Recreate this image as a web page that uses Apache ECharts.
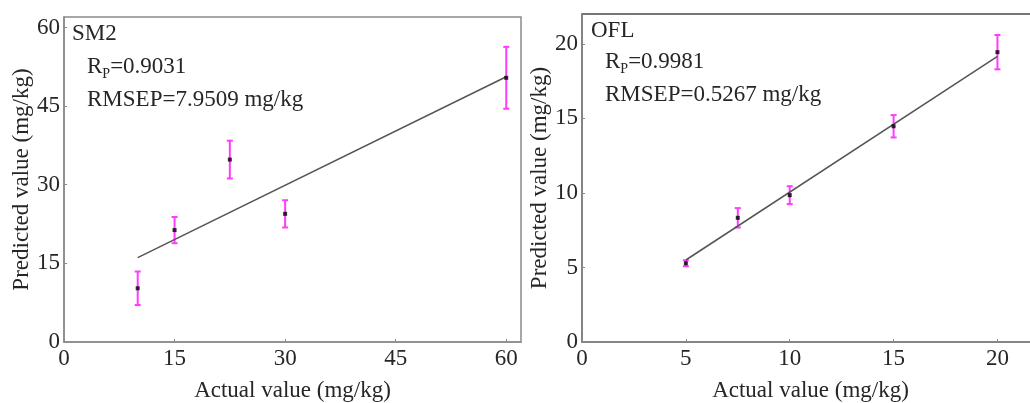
<!DOCTYPE html>
<html>
<head>
<meta charset="utf-8">
<script src="https://cdn.jsdelivr.net/npm/echarts@6/dist/echarts.min.js"></script>
<style>
html, body { margin: 0; padding: 0; background: #fff; }
#main { width: 1030px; height: 403px; }
</style>
</head>
<body>
<div id="main"></div>
<script>
var dom = document.getElementById('main');
var myChart = echarts.init(dom);

// SM2 panel
var smActual = [10, 15, 22.5, 30, 60];
var smPred = [10.25, 21.35, 34.8, 24.45, 50.4];
var smErr = [3.2, 2.5, 3.6, 2.6, 5.9];
var smFitX = [10, 60];
var smFitY = [16.1, 50.6];
var smTicks = [0, 15, 30, 45, 60];

// OFL panel
var oflActual = [5, 7.5, 10, 15, 20];
var oflPred = [5.28, 8.33, 9.85, 14.47, 19.44];
var oflErr = [0.2, 0.65, 0.6, 0.75, 1.15];
var oflFitX = [5, 20];
var oflFitY = [5.5, 19.15];
var oflTicks = [0, 5, 10, 15, 20];

var font = 'Liberation Serif';
var textColor = '#262626';
var axisColor = '#8a8a8a';

function pairs(xs, ys) {
    return xs.map(function (x, i) { return [x, ys[i]]; });
}
function errData(xs, ys, es) {
    return xs.map(function (x, i) { return [x, ys[i] - es[i], ys[i] + es[i]]; });
}

function errorBar(params, api) {
    var lo = api.coord([api.value(0), api.value(1)]);
    var hi = api.coord([api.value(0), api.value(2)]);
    var w = 3;
    var st = { stroke: '#ff3cff', lineWidth: 2 };
    return {
        type: 'group',
        children: [
            { type: 'line', shape: { x1: lo[0], y1: lo[1], x2: hi[0], y2: hi[1] }, style: st },
            { type: 'line', shape: { x1: lo[0] - w, y1: lo[1], x2: lo[0] + w, y2: lo[1] }, style: st },
            { type: 'line', shape: { x1: hi[0] - w, y1: hi[1], x2: hi[0] + w, y2: hi[1] }, style: st }
        ]
    };
}

function xAx(idx, max, ticks) {
    return {
        type: 'value', gridIndex: idx, min: 0, max: max,
        name: 'Actual value (mg/kg)', nameLocation: 'middle', nameGap: 37,
        nameTextStyle: { fontFamily: font, fontSize: 23, color: textColor },
        axisLine: { onZero: false, lineStyle: { color: axisColor, width: 1.5 } },
        axisTick: { inside: true, length: 3, customValues: ticks, lineStyle: { color: axisColor } },
        axisLabel: { customValues: ticks, fontFamily: font, fontSize: 23, color: textColor, margin: 5 },
        splitLine: { show: false }
    };
}
function yAx(idx, max, ticks) {
    return {
        type: 'value', gridIndex: idx, min: 0, max: max,
        name: 'Predicted value (mg/kg)', nameLocation: 'middle', nameGap: 25,
        nameTextStyle: { fontFamily: font, fontSize: 23, color: textColor },
        axisLine: { onZero: false, lineStyle: { color: axisColor, width: 1.5 } },
        axisTick: { inside: true, length: 3, customValues: ticks, lineStyle: { color: axisColor } },
        axisLabel: { customValues: ticks, fontFamily: font, fontSize: 23, color: textColor, margin: 4 },
        splitLine: { show: false }
    };
}

var rich = {
    a: { fontFamily: font, fontSize: 23, color: textColor, lineHeight: 28 },
    sub: { fontFamily: font, fontSize: 14, color: textColor, lineHeight: 14, verticalAlign: 'bottom' }
};
function note(text, left, top) {
    return {
        text: text, left: left, top: top, padding: 0,
        textStyle: { fontFamily: font, fontSize: 23, fontWeight: 'normal', color: textColor, rich: rich }
    };
}

var option = {
    backgroundColor: '#fff',
    animation: false,
    title: [
        note('{a|SM2}', 72, 20),
        note('{a|R}{sub|P}{a|=0.9031}', 87, 53),
        note('{a|RMSEP=7.9509 mg/kg}', 87, 86),
        note('{a|OFL}', 591, 17),
        note('{a|R}{sub|P}{a|=0.9981}', 605, 48),
        note('{a|RMSEP=0.5267 mg/kg}', 605, 81)
    ],
    grid: [
        {
            left: 64, top: 17, width: 457, height: 325, outerBoundsMode: 'none',
            show: true, borderColor: axisColor, borderWidth: 1.5
        },
        {
            left: 582, top: 14, width: 457, height: 328, outerBoundsMode: 'none',
            show: true, borderColor: '#4a4a4a', borderWidth: 1.5
        }
    ],
    xAxis: [xAx(0, 62, smTicks), xAx(1, 22, oflTicks)],
    yAxis: [yAx(0, 62, smTicks), yAx(1, 22, oflTicks)],
    series: [
        {
            type: 'line', xAxisIndex: 0, yAxisIndex: 0, data: pairs(smFitX, smFitY),
            symbol: 'none', lineStyle: { color: '#555', width: 1.5 }
        },
        {
            type: 'custom', xAxisIndex: 0, yAxisIndex: 0, renderItem: errorBar,
            data: errData(smActual, smPred, smErr), z: 3
        },
        {
            type: 'scatter', xAxisIndex: 0, yAxisIndex: 0, data: pairs(smActual, smPred),
            symbol: 'rect', symbolSize: 4, itemStyle: { color: '#000' }, z: 4
        },
        {
            type: 'line', xAxisIndex: 1, yAxisIndex: 1, data: pairs(oflFitX, oflFitY),
            symbol: 'none', lineStyle: { color: '#555', width: 1.5 }
        },
        {
            type: 'custom', xAxisIndex: 1, yAxisIndex: 1, renderItem: errorBar,
            data: errData(oflActual, oflPred, oflErr), z: 3
        },
        {
            type: 'scatter', xAxisIndex: 1, yAxisIndex: 1, data: pairs(oflActual, oflPred),
            symbol: 'rect', symbolSize: 4, itemStyle: { color: '#000' }, z: 4
        }
    ]
};
if (option && typeof option === "object") {
    myChart.setOption(option, true);
}
</script>
</body>
</html>
